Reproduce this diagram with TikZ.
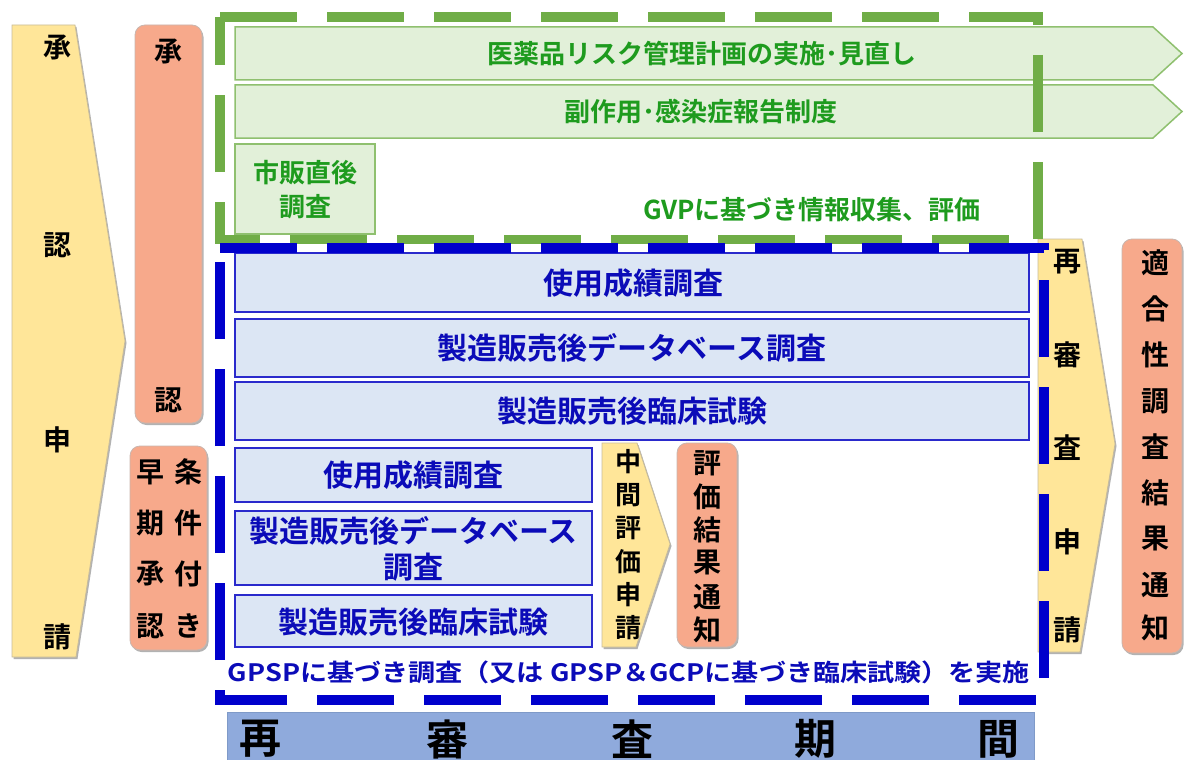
\documentclass[tikz,border=0pt]{standalone}
\usepackage{fontspec}
\usepackage{graphicx}
\usetikzlibrary{shadows}
\newfontfamily\jp{Noto Sans CJK JP Bold}
\definecolor{yelc}{HTML}{FFE699}
\definecolor{yelb}{HTML}{C8BC9A}
\definecolor{salc}{HTML}{F7A98B}
\definecolor{salb}{HTML}{C9B5AE}
\definecolor{gfill}{HTML}{E2F0D9}
\definecolor{gbord}{HTML}{8FC06F}
\definecolor{gdc}{HTML}{70AD47}
\definecolor{gtxt}{HTML}{1E9B1E}
\definecolor{bfill}{HTML}{DCE6F4}
\definecolor{bbord}{HTML}{2A2ACC}
\definecolor{bdc}{HTML}{0000CC}
\definecolor{btxt}{HTML}{0B0BB8}
\definecolor{barc}{HTML}{8FAADC}
\definecolor{barb}{HTML}{7F9AC8}
\begin{document}
\begin{tikzpicture}[x=1pt,y=-1pt,
  shd/.style={drop shadow={shadow xshift=1.5pt,shadow yshift=-2pt,opacity=0.3,fill=black}},
  yel/.style={fill=yelc,draw=yelb,line width=0.8,shd},
  sal/.style={rounded corners=10,fill=salc,draw=salb,line width=0.8,shd},
  gbox/.style={fill=gfill,draw=gbord,line width=1.5},
  bbox/.style={fill=bfill,draw=bbord,line width=2,inner sep=0},
  gdash/.style={draw=gdc,line width=9.5,dash pattern=on 77 off 30},
  bdash/.style={draw=bdc,line width=9.5,dash pattern=on 77 off 30},
  vt/.style={font=\jp\fontsize{28}{30}\selectfont,text=black,inner sep=0},
  vs/.style={font=\jp\fontsize{26}{30}\selectfont,text=black,inner sep=0},
  gt/.style={font=\jp\fontsize{26}{34}\selectfont,text=gtxt,inner sep=0,align=center},
  bt/.style={font=\jp\fontsize{30}{36}\selectfont,text=btxt,inner sep=0,align=center},
  bar/.style={fill=barc,draw=barb,line width=0.8,inner sep=0},
  bart/.style={font=\jp\fontsize{42}{44}\selectfont,text=black,inner sep=0}
]
\useasboundingbox (0,0) rectangle (1184,760);

% left yellow arrow
\draw[yel] (12,25) -- (75,25) -- (125,341) -- (76,657) -- (12,657) -- cycle;
% salmon boxes left
\node[sal,minimum width=67,minimum height=398] (shonin) at (168.5,224) {};
\node[sal,minimum width=77,minimum height=204] (joken) at (168.5,548) {};

% green arrow bands
\draw[gbox] (235,27) -- (1153,27) -- (1182,53.5) -- (1153,80) -- (235,80) -- cycle;
\draw[gbox] (235,85) -- (1153,85) -- (1182,111.5) -- (1153,138) -- (235,138) -- cycle;
\node[gbox,minimum width=140,minimum height=90,inner sep=0] (shihan) at (305,189) {};

% blue boxes
\node[bbox,minimum width=794,minimum height=59] (b1) at (632,282.5) {};
\node[bbox,minimum width=794,minimum height=58] (b2) at (632,348) {};
\node[bbox,minimum width=794,minimum height=58] (b3) at (632,411) {};
\node[bbox,minimum width=357,minimum height=54] (s1) at (413.5,475) {};
\node[bbox,minimum width=357,minimum height=74] (s2) at (413.5,548) {};
\node[bbox,minimum width=357,minimum height=52] (s3) at (413.5,621) {};

% middle yellow arrow and salmon
\draw[yel] (602,443) -- (637,443) -- (670,544) -- (636,647) -- (602,647) -- cycle;
\node[sal,minimum width=60,minimum height=204] (hyoka) at (707,545) {};

% right yellow arrow and salmon
\draw[yel] (1038,239) -- (1082,239) -- (1115,444) -- (1080,652) -- (1038,652) -- cycle;
\node[sal,minimum width=60,minimum height=414] (tekigo) at (1152,446) {};

% dashed frames
\draw[gdash] (220,17) -- (1038,17) -- (1038,239.5) -- (220,239.5) -- cycle;
\draw[bdash] (220,248) -- (1044,248) -- (1044,700) -- (220,700) -- cycle;

% bottom bar
\node[bar,minimum width=807,minimum height=50] (kikan) at (630.5,737) {};

% texts: green
\node[gt] (t1) at (702,53.5) {医薬品リスク管理計画の実施･見直し};
\node[gt] (t2) at (701,111.5) {副作用･感染症報告制度};
\node[gt] (t3) at (305,190) {市販直後\\調査};
\node[gt] (t4) at (812,210) {GVPに基づき情報収集、評価};

% texts: blue
\node[bt] (u1) at (633,283) {使用成績調査};
\node[bt] (u2) at (632,348) {製造販売後データベース調査};
\node[bt] (u3) at (632,411) {製造販売後臨床試験};
\node[bt] (v1) at (413.5,475) {使用成績調査};
\node[bt] (v2) at (413.5,549) {製造販売後データベース\\調査};
\node[bt] (v3) at (413.5,622) {製造販売後臨床試験};
\node[bt,font=\jp\fontsize{24}{28}\selectfont] (gpsp) at (629,672)
  {\resizebox{802pt}{\height}{GPSPに基づき調査（又は GPSP＆GCPに基づき臨床試験）を実施}};

% vertical texts
\foreach \c/\yy [count=\i] in {承/48,認/245,申/440,請/637}
  \node[vt] (a\i) at (57,\yy) {\c};
\foreach \c/\yy [count=\i] in {承/52,認/400}
  \node[vt] (b\i) at (168.5,\yy) {\c};
\foreach \c/\yy [count=\i] in {早/472,期/523,承/574,認/626}
  \node[vt] (c\i) at (150,\yy) {\c};
\foreach \c/\yy [count=\i] in {条/472,件/523,付/574,き/626}
  \node[vt] (d\i) at (188,\yy) {\c};
\foreach \c/\yy [count=\i] in {中/462,間/495,評/528,価/562,申/595,請/628}
  \node[vs] (e\i) at (628,\yy) {\c};
\foreach \c/\yy [count=\i] in {評/463,価/497,結/530,果/563,通/597,知/630}
  \node[vt] (f\i) at (707,\yy) {\c};
\foreach \c/\yy [count=\i] in {再/262,審/355,査/448,申/542,請/630}
  \node[vt] (g\i) at (1067,\yy) {\c};
\foreach \c/\yy [count=\i] in {適/263,合/309,性/355,調/401,査/447,結/493,果/539,通/585,知/628}
  \node[vt] (h\i) at (1155,\yy) {\c};
\foreach \c/\xx [count=\i] in {再/260,審/447,査/632,期/815,間/998}
  \node[bart] (k\i) at (\xx,739) {\c};
\end{tikzpicture}
\end{document}
